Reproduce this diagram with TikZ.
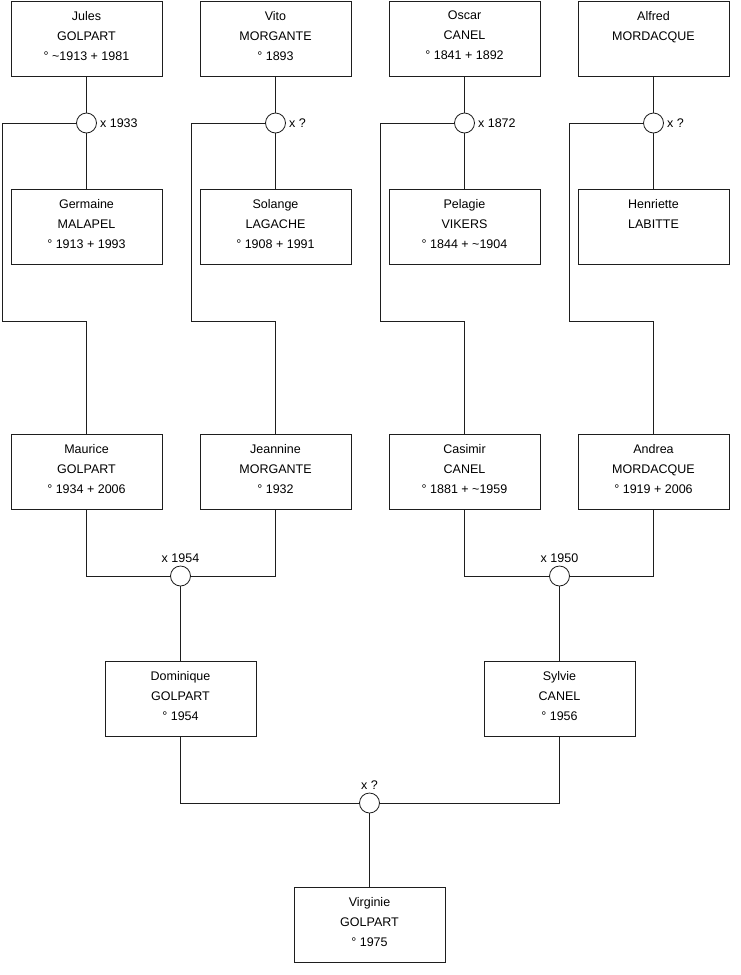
\documentclass[tikz,border=0pt]{standalone}
\usepackage{fontspec}
\setmainfont{Liberation Sans}
\usepackage{tikz}
\usetikzlibrary{positioning}
\definecolor{treeline}{RGB}{30,30,30}
\tikzset{
  person/.style={draw=treeline,line width=0.8pt,fill=white,minimum width=151pt,
                 minimum height=75pt,inner sep=0pt,align=center,
                 font=\fontsize{12.5}{20}\selectfont,text depth=6pt},
  wedding/.style={draw=treeline,line width=0.8pt,circle,fill=white,
                  minimum size=20pt,inner sep=0pt},
  link/.style={draw=treeline,line width=0.8pt},
  wdate/.style={font=\fontsize{12.5}{15}\selectfont,inner sep=2pt}
}

\begin{document}
\begin{tikzpicture}[x=1pt,y=-1pt]
    \useasboundingbox (0,0) rectangle (740,975);
    \node[person] (jules) at (86.5,38.5) {Jules\\GOLPART\\° \textasciitilde1913 + 1981};
    \node[person] (vito) at (275.5,38.5) {Vito\\MORGANTE\\° 1893};
    \node[person] (oscar) at (464.5,38.5) {Oscar\\CANEL\\° 1841 + 1892};
    \node[person] (alfred) at (653.5,38.5) {Alfred\\MORDACQUE\\\mbox{}};
    \node[wedding] (m1) at (86.5,123) {};
    \node[wedding] (m2) at (275.5,123) {};
    \node[wedding] (m3) at (464.5,123) {};
    \node[wedding] (m4) at (653.5,123) {};
    \node[wdate,right=1pt of m1] (d1) {x 1933};
    \node[wdate,right=1pt of m2] (d2) {x ?};
    \node[wdate,right=1pt of m3] (d3) {x 1872};
    \node[wdate,right=1pt of m4] (d4) {x ?};
    \node[person] (germaine) at (86.5,227) {Germaine\\MALAPEL\\° 1913 + 1993};
    \node[person] (solange) at (275.5,227) {Solange\\LAGACHE\\° 1908 + 1991};
    \node[person] (pelagie) at (464.5,227) {Pelagie\\VIKERS\\° 1844 + \textasciitilde1904};
    \node[person] (henriette) at (653.5,227) {Henriette\\LABITTE\\\mbox{}};
    \coordinate (k1) at (2,321);
    \coordinate (k2) at (191,321);
    \coordinate (k3) at (380,321);
    \coordinate (k4) at (569,321);
    \node[person] (maurice) at (86.5,472) {Maurice\\GOLPART\\° 1934 + 2006};
    \node[person] (jeannine) at (275.5,472) {Jeannine\\MORGANTE\\° 1932};
    \node[person] (casimir) at (464.5,472) {Casimir\\CANEL\\° 1881 + \textasciitilde1959};
    \node[person] (andrea) at (653.5,472) {Andrea\\MORDACQUE\\° 1919 + 2006};
    \node[wedding] (m5) at (180.5,576) {};
    \node[wedding] (m6) at (559.5,576) {};
    \node[wdate,above=1pt of m5] (d5) {x 1954};
    \node[wdate,above=1pt of m6] (d6) {x 1950};
    \node[person] (dominique) at (180.5,699) {Dominique\\GOLPART\\° 1954};
    \node[person] (sylvie) at (559.5,699) {Sylvie\\CANEL\\° 1956};
    \node[wedding] (m7) at (369.5,803) {};
    \node[wdate,above=1pt of m7] (d7) {x ?};
    \node[person] (virginie) at (369.5,924.5) {Virginie\\GOLPART\\° 1975};

    \draw[link] (jules) -- (m1) -- (germaine);
    \draw[link] (vito) -- (m2) -- (solange);
    \draw[link] (oscar) -- (m3) -- (pelagie);
    \draw[link] (alfred) -- (m4) -- (henriette);
    \draw[link] (m1.west) -| (k1) -| (maurice.north);
    \draw[link] (m2.west) -| (k2) -| (jeannine.north);
    \draw[link] (m3.west) -| (k3) -| (casimir.north);
    \draw[link] (m4.west) -| (k4) -| (andrea.north);
    \draw[link] (maurice.south) |- (m5.west);
    \draw[link] (jeannine.south) |- (m5.east);
    \draw[link] (m5) -- (dominique);
    \draw[link] (casimir.south) |- (m6.west);
    \draw[link] (andrea.south) |- (m6.east);
    \draw[link] (m6) -- (sylvie);
    \draw[link] (dominique.south) |- (m7.west);
    \draw[link] (sylvie.south) |- (m7.east);
    \draw[link] (m7) -- (virginie);
\end{tikzpicture}
\end{document}
